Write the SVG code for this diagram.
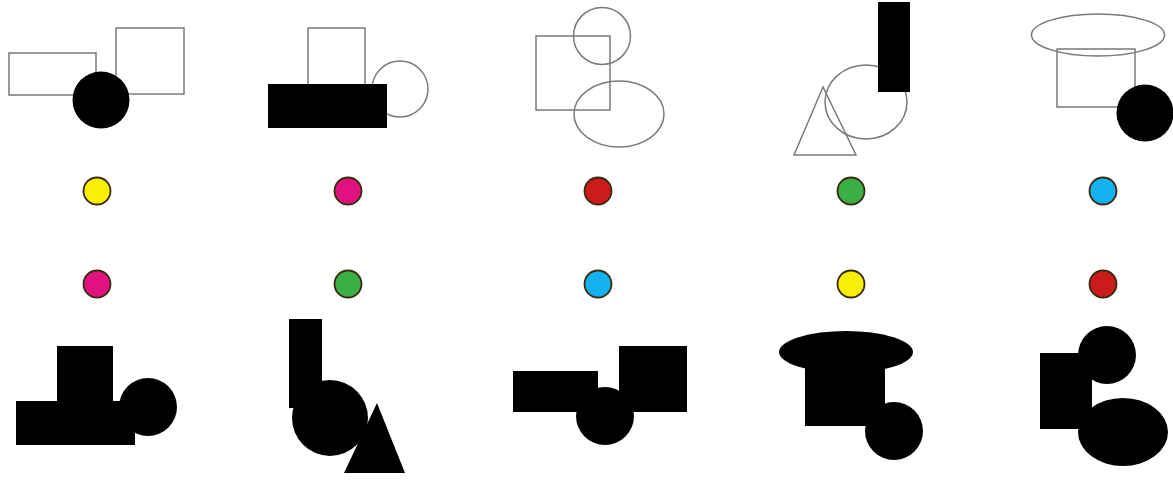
<svg xmlns="http://www.w3.org/2000/svg" width="1173" height="481" viewBox="0 0 1173 481">
<style>
.o{fill:none;stroke:#7a7a7a;stroke-width:1.5}
.f{fill:#000;stroke:none}
.d{stroke:#3a2a10;stroke-width:1.8}
</style>
<rect width="1173" height="481" fill="#fff"/>
<g id="fig1">
<rect class="o" x="9" y="53" width="87" height="42"/>
<rect class="o" x="116" y="28" width="68" height="66"/>
<circle class="f" cx="101" cy="100" r="28.5"/>
</g>
<g id="fig2">
<rect class="o" x="308" y="28" width="57" height="60"/>
<circle class="o" cx="400" cy="89" r="28"/>
<rect class="f" x="268" y="84" width="119" height="44"/>
</g>
<g id="fig3">
<rect class="o" x="536" y="36" width="74" height="74"/>
<circle class="o" cx="602" cy="36" r="28.5"/>
<ellipse class="o" cx="619" cy="114" rx="45" ry="33"/>
</g>
<g id="fig4">
<ellipse class="o" cx="866" cy="102" rx="41" ry="37"/>
<polygon class="o" points="823,87 794,155 856,155"/>
<rect class="f" x="878" y="2" width="32" height="90"/>
</g>
<g id="fig5">
<ellipse class="o" cx="1098" cy="35" rx="66.5" ry="21"/>
<rect class="o" x="1057" y="49" width="78" height="58"/>
<circle class="f" cx="1145" cy="113" r="28.5"/>
</g>
<g id="dots">
<circle class="d" cx="97" cy="191" r="13.5" fill="#f7ef05"/>
<circle class="d" cx="348" cy="191" r="13.5" fill="#e0127f"/>
<circle class="d" cx="598" cy="191" r="13.5" fill="#cc1b1b"/>
<circle class="d" cx="851" cy="191" r="13.5" fill="#3cae46"/>
<circle class="d" cx="1103" cy="191" r="13.5" fill="#11b2ef"/>
<circle class="d" cx="97" cy="284" r="13.5" fill="#e0127f"/>
<circle class="d" cx="348" cy="284" r="13.5" fill="#3cae46"/>
<circle class="d" cx="598" cy="284" r="13.5" fill="#11b2ef"/>
<circle class="d" cx="851" cy="284" r="13.5" fill="#f7ef05"/>
<circle class="d" cx="1103" cy="284" r="13.5" fill="#cc1b1b"/>
</g>
<g id="fig6">
<rect class="f" x="57" y="346" width="56" height="70"/>
<rect class="f" x="16" y="401" width="119" height="44"/>
<circle class="f" cx="148" cy="407" r="29"/>
</g>
<g id="fig7">
<rect class="f" x="289" y="319" width="33" height="89"/>
<circle class="f" cx="330" cy="418" r="38"/>
<polygon class="f" points="377,403 344,473 405,473"/>
</g>
<g id="fig8">
<rect class="f" x="513" y="371" width="85" height="41"/>
<rect class="f" x="619" y="346" width="68" height="66"/>
<circle class="f" cx="605" cy="416" r="29"/>
</g>
<g id="fig9">
<ellipse class="f" cx="846" cy="352" rx="67" ry="21"/>
<rect class="f" x="805" y="360" width="80" height="66"/>
<circle class="f" cx="894" cy="431" r="29"/>
</g>
<g id="fig10">
<rect class="f" x="1040" y="353" width="52" height="76"/>
<circle class="f" cx="1107" cy="355" r="29"/>
<ellipse class="f" cx="1123" cy="432" rx="45" ry="34"/>
</g>
</svg>
